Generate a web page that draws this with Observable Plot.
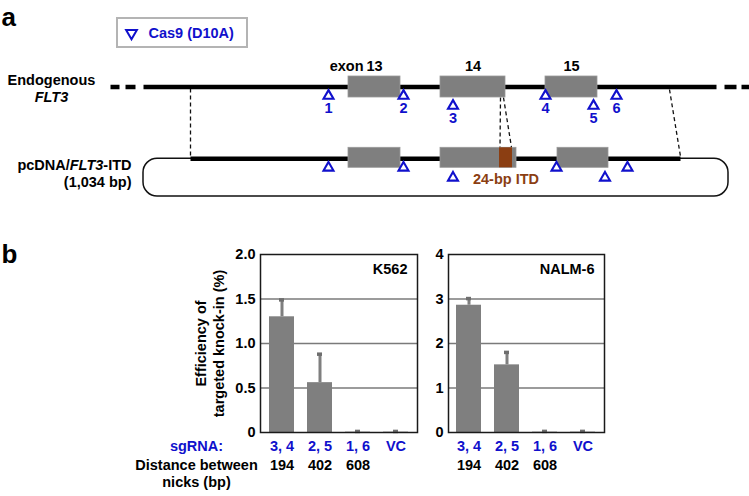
<!DOCTYPE html>
<html><head><meta charset="utf-8">
<script src="https://cdn.jsdelivr.net/npm/d3@7"></script>
<script src="https://cdn.jsdelivr.net/npm/@observablehq/plot@0.6"></script>
<style>
body{margin:0;background:#fff;}
#fig{position:relative;width:749px;height:496px;overflow:hidden;background:#fff;}
#fig svg{position:absolute;background:transparent;}
</style></head><body><div id="fig"></div>
<script>
const FONT = "'Liberation Sans', Arial, Helvetica, sans-serif";
const BLUE = "#1010cc";
const GRAY = "#7f7f7f";
const BROWN = "#8b3e12";

// ---------- panel a: schematic (positions in schematic units) ----------
const ROW_ENDO = 86.5, ROW_PLASMID = 158.3;
const endoLine = [{x1:143, x2:716}];
const endoDashes = [{x1:110,x2:119},{x1:125,x2:135},{x1:724,x2:736},{x1:741,x2:749}];
const endoExons = [{n:"13",x1:348,x2:400},{n:"14",x1:440,x2:505},{n:"15",x1:545,x2:597}];
const plasmidInsert = [{x1:190, x2:680}];
const plasmidBackbone = [{x1:143, x2:728, y1:158.3, y2:196}];
const plasmidExons = [{x1:348,x2:400},{x1:440,x2:516},{x1:557,x2:608}];
const itd = [{x1:499, x2:512, label:"24-bp ITD"}];
const endoSites = [
  {id:"1", x:328, low:false},{id:"2", x:403, low:false},{id:"3", x:452.5, low:true},
  {id:"4", x:545, low:false},{id:"5", x:593, low:true},{id:"6", x:616, low:false}];
const plasmidSites = [
  {x:328, low:false},{x:403, low:false},{x:452.5, low:true},
  {x:556, low:false},{x:604.5, low:true},{x:627, low:false}];
const connectors = [
  {xa:190, ya:88, xb:190, yb:156},
  {xa:500, ya:97, xb:499.5, yb:147},
  {xa:503, ya:97, xb:511, yb:147},
  {xa:669, ya:89, xb:680, yb:156}];
const legendBox = [{x1:117, x2:247, y1:18, y2:47}];
const legendItem = [{x:131, y:32.5, tx:148, label:"Cas9 (D10A)"}];
const endoLabels = [{x:51, y:79.5, text:"Endogenous"}];
const endoGeneLabel = [{x:51, y:97, text:"FLT3"}];
const plasmidLabels = [{x:131, y:165, text:"pcDNA/FLT3-ITD"},{x:131, y:182, text:"(1,034 bp)"}];
const panelLetters = [{x:1, y:17.5, text:"a"},{x:1, y:254.5, text:"b"}];

const tri = (row, low) => row + (low ? 18.9 : 8.9);
const triLab = (row, low) => row + (low ? 31.5 : 21.5);

const baseStyle = {fontFamily: FONT, fontSize: "14.5px", fontWeight: "bold", background: "transparent", color: "black"};

const schematic = Plot.plot({
  width: 749, height: 496, margin: 0,
  x: {domain: [0, 749], range: [0, 749], axis: null},
  y: {domain: [0, 496], range: [0, 496], axis: null},
  style: baseStyle,
  marks: [
    Plot.rect(plasmidBackbone, {x1:"x1", x2:"x2", y1:"y1", y2:"y2", rx:14, fill:"none", stroke:"#111", strokeWidth:1.5}),
    Plot.link(connectors, {x1:"xa", y1:"ya", x2:"xb", y2:"yb", stroke:"#111", strokeWidth:1.3, strokeDasharray:"4,3", strokeLinecap:"butt"}),
    Plot.link(endoLine, {x1:"x1", x2:"x2", y1:() => ROW_ENDO, y2:() => ROW_ENDO, stroke:"black", strokeWidth:4.5, strokeLinecap:"butt"}),
    Plot.link(endoDashes, {x1:"x1", x2:"x2", y1:() => ROW_ENDO, y2:() => ROW_ENDO, stroke:"black", strokeWidth:4.5, strokeLinecap:"butt"}),
    Plot.link(plasmidInsert, {x1:"x1", x2:"x2", y1:() => ROW_PLASMID, y2:() => ROW_PLASMID, stroke:"black", strokeWidth:4.5, strokeLinecap:"butt"}),
    Plot.rect(endoExons, {x1:"x1", x2:"x2", y1:() => ROW_ENDO - 10.5, y2:() => ROW_ENDO + 10.5, fill:GRAY, stroke:"#9a9a9a", strokeWidth:0.8}),
    Plot.rect(plasmidExons, {x1:"x1", x2:"x2", y1:() => ROW_PLASMID - 11, y2:() => ROW_PLASMID + 9, fill:GRAY, stroke:"#9a9a9a", strokeWidth:0.8}),
    Plot.rect(itd, {x1:"x1", x2:"x2", y1:() => ROW_PLASMID - 11, y2:() => ROW_PLASMID + 9, fill:BROWN}),
    Plot.text(itd, {x:d => (d.x1 + d.x2) / 2, y:() => ROW_PLASMID + 21, text:"label", fill:BROWN, fontWeight:"bold", fontSize:14.5}),
    // exon labels
    Plot.text(endoExons, {x:d => (d.x1 + d.x2) / 2, y:() => ROW_ENDO - 20.5, text:"n", fontWeight:"bold", fontSize:14.5}),
    Plot.text(endoExons.slice(0,1), {x:d => (d.x1 + d.x2) / 2, y:() => ROW_ENDO - 20.5, text:() => "exon", textAnchor:"end", dx:-11, fontWeight:"bold", fontSize:14.5}),
    // nick sites
    Plot.dot(endoSites, {x:"x", y:d => tri(ROW_ENDO, d.low), symbol:"triangle", r:3.7, fill:"white", stroke:BLUE, strokeWidth:2.1}),
    Plot.text(endoSites, {x:"x", y:d => triLab(ROW_ENDO, d.low), text:"id", fill:BLUE, fontWeight:"bold", fontSize:14.5}),
    Plot.dot(plasmidSites, {x:"x", y:d => tri(ROW_PLASMID, d.low), symbol:"triangle", r:3.7, fill:"white", stroke:BLUE, strokeWidth:2.1}),
    // legend
    Plot.rect(legendBox, {x1:"x1", x2:"x2", y1:"y1", y2:"y2", fill:"white", stroke:"#b4b4b4", strokeWidth:2}),
    Plot.dot(legendItem, {x:"x", y:"y", symbol:"triangle", rotate:180, r:4, fill:"white", stroke:BLUE, strokeWidth:2}),
    Plot.text(legendItem, {x:"tx", y:"y", text:"label", textAnchor:"start", fill:BLUE, fontWeight:"bold", fontSize:14.5}),
    // row labels
    Plot.text(endoLabels, {x:"x", y:"y", text:"text", textAnchor:"middle", fontWeight:"bold", fontSize:14.5}),
    Plot.text(endoGeneLabel, {x:"x", y:"y", text:"text", textAnchor:"middle", fontStyle:"italic", fontWeight:"bold", fontSize:14.5}),
    Plot.text(plasmidLabels, {x:"x", y:"y", text:"text", textAnchor:"end", fontWeight:"bold", fontSize:14.5}),
    Plot.text(panelLetters, {x:"x", y:"y", text:"text", textAnchor:"start", fontWeight:"bold", fontSize:26})
  ]
});
schematic.style.left = "0px"; schematic.style.top = "0px";
schematic.querySelectorAll("text").forEach(t => {
  if (t.textContent === "pcDNA/FLT3-ITD") {
    t.innerHTML = 'pcDNA/<tspan font-style="italic">FLT3</tspan>-ITD';
  }
});
document.getElementById("fig").appendChild(schematic);

// ---------- panel b: bar charts ----------
const sgRNA = ["3, 4", "2, 5", "1, 6", "VC"];
const distances = ["194", "402", "608", ""];
const k562Mean = [1.30, 0.56, 0.004, 0.004];
const k562Upper = [1.49, 0.88, 0.012, 0.012];
const nalmMean = [2.86, 1.52, 0.008, 0.008];
const nalmUpper = [3.01, 1.80, 0.025, 0.025];
const k562Ticks = [0, 0.5, 1, 1.5, 2];
const nalmTicks = [0, 1, 2, 3, 4];

const k562 = sgRNA.map((c, i) => ({cat:c, dist:distances[i], mean:k562Mean[i], hi:k562Upper[i]}));
const nalm = sgRNA.map((c, i) => ({cat:c, dist:distances[i], mean:nalmMean[i], hi:nalmUpper[i]}));

function barChart({data, ticks, fmt, name, width, marginLeft, withTitles}) {
  const grid = ticks.slice(1, -1);
  const marks = [
    Plot.ruleY(grid, {stroke:"#7a7a7a", strokeWidth:1.5}),
    Plot.barY(data, {x:"cat", y:"mean", fill:GRAY}),
    Plot.ruleX(data, {x:"cat", y1:"mean", y2:"hi", stroke:GRAY, strokeWidth:3}),
    Plot.tickY(data, {x:"cat", y:"hi", stroke:"#6e6e6e", strokeWidth:3.5, insetLeft:10, insetRight:10}),
    Plot.frame({stroke:"#1a1a1a", strokeWidth:1.5}),
    Plot.axisY(ticks, {tickFormat:fmt, tickSize:0, tickPadding:5, fontSize:14.5, fontWeight:"bold", label:null}),
    Plot.text(data, {x:"cat", text:"cat", frameAnchor:"bottom", textAnchor:"middle", lineAnchor:"middle", dy:14, fill:BLUE, fontWeight:"bold", fontSize:14.5}),
    Plot.text(data, {x:"cat", text:"dist", frameAnchor:"bottom", textAnchor:"middle", lineAnchor:"middle", dy:32.5, fill:"black", fontWeight:"bold", fontSize:14.5}),
    Plot.text([name], {text:d => d, frameAnchor:"top-right", textAnchor:"end", lineAnchor:"middle", dx:-10, dy:14.5, fontWeight:"bold", fontSize:14.5})
  ];
  if (withTitles) {
    marks.push(
      Plot.text(["Efficiency of\ntargeted knock-in (%)"], {text:d => d, frameAnchor:"left", textAnchor:"middle", lineAnchor:"middle", rotate:-90, dx:-51, lineHeight:1.2, fontWeight:"bold", fontSize:14.5}),
      Plot.text(["sgRNA:"], {text:d => d, frameAnchor:"bottom-left", textAnchor:"middle", lineAnchor:"middle", dx:-64, dy:14, fill:BLUE, fontWeight:"bold", fontSize:14.5}),
      Plot.text(["Distance between"], {text:d => d, frameAnchor:"bottom-left", textAnchor:"middle", lineAnchor:"middle", dx:-64, dy:32.5, fontWeight:"bold", fontSize:14.5}),
      Plot.text(["nicks (bp)"], {text:d => d, frameAnchor:"bottom-left", textAnchor:"middle", lineAnchor:"middle", dx:-64, dy:49.5, fontWeight:"bold", fontSize:14.5})
    );
  }
  return Plot.plot({
    width, height: 256, marginLeft, marginRight: 2, marginTop: 18, marginBottom: 60,
    x: {domain: sgRNA, paddingInner: 0.34, paddingOuter: 0.21, axis: null},
    y: {domain: [ticks[0], ticks[ticks.length - 1]]},
    style: baseStyle,
    marks
  });
}

const p1 = barChart({data:k562, ticks:k562Ticks, fmt:d => d === 0 ? "0" : d.toFixed(1), name:"K562", width:289, marginLeft:130, withTitles:true});
p1.style.left = "130px"; p1.style.top = "236px";
document.getElementById("fig").appendChild(p1);

const p2 = barChart({data:nalm, ticks:nalmTicks, fmt:d3.format("d"), name:"NALM-6", width:206, marginLeft:48, withTitles:false});
p2.style.left = "400px"; p2.style.top = "236px";
document.getElementById("fig").appendChild(p2);
</script></body></html>
